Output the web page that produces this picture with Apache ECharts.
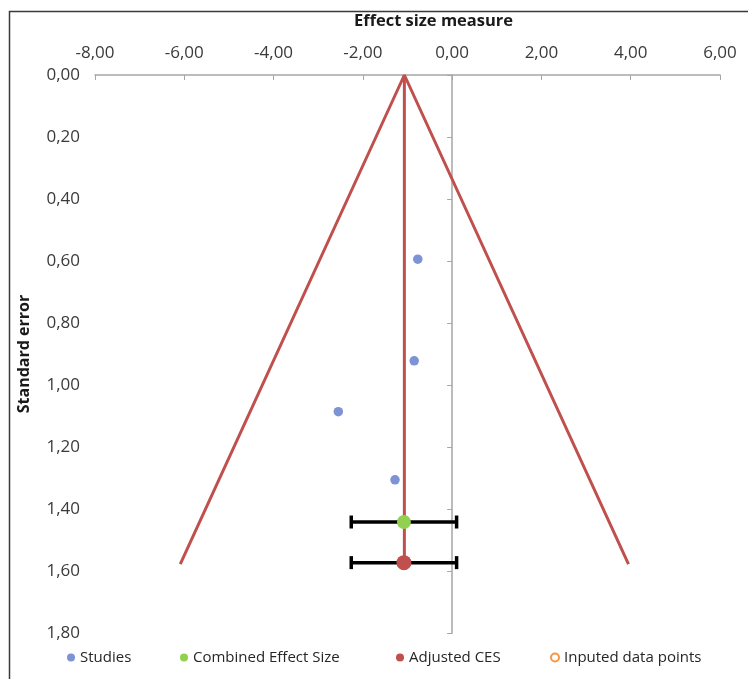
<!DOCTYPE html>
<html>
<head>
<meta charset="utf-8">
<script src="https://cdn.jsdelivr.net/npm/echarts@6/dist/echarts.min.js"></script>
<style>
  html, body { margin: 0; padding: 0; background: #fff; }
  #funnel { width: 748px; height: 679px; }
</style>
</head>
<body>
<div id="funnel"></div>
<script>
// studies: [effect size, standard error]
const studies = [[-0.77, 0.594], [-0.85, 0.922], [-2.55, 1.086], [-1.28, 1.306]];
// combined effect size and adjusted CES: [effect, SE, CI low, CI high]
const combined = [-1.08, 1.442, -2.26, 0.10];
const adjusted = [-1.08, 1.573, -2.26, 0.10];
const imputed = [];
// funnel outline: apex and bottom corners
const funnelApex = [-1.07, 0];
const funnelLeft = [-6.09, 1.578];
const funnelRight = [3.95, 1.578];
const legendNames = ['Studies', 'Combined Effect Size', 'Adjusted CES', 'Inputed data points'];
const legendLeft = [62, 175, 391, 545];

const comma = v => v.toFixed(2).replace('.', ',');
const font = '"Open Sans", sans-serif';

const chart = echarts.init(document.getElementById('funnel'));

const errorBar = {
  type: 'custom',
  z: 3,
  silent: true,
  renderItem: function (params, api) {
    const y = api.value(1);
    const lo = api.coord([api.value(2), y]);
    const hi = api.coord([api.value(3), y]);
    const style = { stroke: '#000', lineWidth: 3.5 };
    return {
      type: 'group',
      children: [
        { type: 'line', shape: { x1: lo[0], y1: lo[1], x2: hi[0], y2: hi[1] }, style: style },
        { type: 'line', shape: { x1: lo[0], y1: lo[1] - 6.5, x2: lo[0], y2: lo[1] + 6.5 }, style: style },
        { type: 'line', shape: { x1: hi[0], y1: hi[1] - 6.5, x2: hi[0], y2: hi[1] + 6.5 }, style: style }
      ]
    };
  },
  encode: { x: [2, 3], y: 1 },
  data: [combined, adjusted]
};

// one legend per entry so each sits where the original has it
const legends = legendNames.map((name, i) => ({
  data: [name],
  left: legendLeft[i], top: 645,
  icon: 'circle',
  itemWidth: 8, itemHeight: 8,
  textStyle: { fontSize: 15, color: '#262626', fontFamily: font }
}));

chart.setOption({
  animation: false,
  textStyle: { fontFamily: font },
  graphic: [{
    type: 'rect',
    left: 7, top: 9,
    shape: { width: 900, height: 900 },
    style: { fill: 'none', stroke: '#3a3a3a', lineWidth: 1.5 },
    silent: true
  }],
  grid: { left: 95, right: 28, top: 75, bottom: 46 },
  legend: legends,
  xAxis: {
    type: 'value',
    position: 'top',
    min: -8, max: 6, interval: 2,
    name: 'Effect size measure',
    nameLocation: 'middle',
    nameGap: 45,
    nameTextStyle: { fontSize: 16.5, fontWeight: 'bold', color: '#1a1a1a', padding: [0, 0, 0, 52] },
    axisLine: { onZero: false, lineStyle: { color: '#a6a6a6', width: 1.5 } },
    axisTick: { inside: true, length: 5, lineStyle: { color: '#a6a6a6' } },
    axisLabel: { formatter: comma, fontSize: 17, color: '#3a3a3a', margin: 13 },
    splitLine: { show: false }
  },
  yAxis: [{
    type: 'value',
    inverse: true,
    min: 0, max: 1.8, interval: 0.2,
    name: 'Standard error',
    nameLocation: 'middle',
    nameGap: 63,
    nameTextStyle: { fontSize: 16, fontWeight: 'bold', color: '#1a1a1a' },
    axisLine: { show: false, onZero: false },
    axisTick: { show: false },
    axisLabel: { formatter: comma, fontSize: 17, color: '#3a3a3a', margin: 15 },
    splitLine: { show: false }
  }, {
    type: 'value',
    inverse: true,
    position: 'left',
    min: 0, max: 1.8, interval: 0.2,
    axisLine: { show: true, onZero: true, lineStyle: { color: '#a6a6a6', width: 1.5 } },
    axisTick: { show: true, length: 5, lineStyle: { color: '#a6a6a6' } },
    axisLabel: { show: false },
    splitLine: { show: false }
  }],
  series: [
    {
      name: 'funnel',
      type: 'line',
      z: 1,
      symbol: 'none',
      silent: true,
      lineStyle: { color: '#c0504d', width: 3 },
      data: [funnelLeft, funnelApex, funnelRight]
    },
    {
      name: 'pooled line',
      type: 'line',
      z: 1,
      symbol: 'none',
      silent: true,
      lineStyle: { color: '#c0504d', width: 3 },
      data: [funnelApex, [funnelApex[0], funnelLeft[1]]]
    },
    errorBar,
    {
      name: 'Studies',
      type: 'scatter',
      z: 4,
      symbolSize: 9.5,
      itemStyle: { color: '#7d93d6', opacity: 1 },
      data: studies
    },
    {
      name: 'Combined Effect Size',
      type: 'scatter',
      z: 4,
      symbolSize: 14,
      itemStyle: { color: '#92d050', opacity: 1 },
      data: [[combined[0], combined[1]]]
    },
    {
      name: 'Adjusted CES',
      type: 'scatter',
      z: 4,
      symbolSize: 15,
      itemStyle: { color: '#c0504d', opacity: 1 },
      data: [[adjusted[0], adjusted[1]]]
    },
    {
      name: 'Inputed data points',
      type: 'scatter',
      z: 4,
      symbolSize: 10,
      itemStyle: { color: '#fff', borderColor: '#f79646', borderWidth: 2.5, opacity: 1 },
      data: imputed
    }
  ]
});
</script>
</body>
</html>
